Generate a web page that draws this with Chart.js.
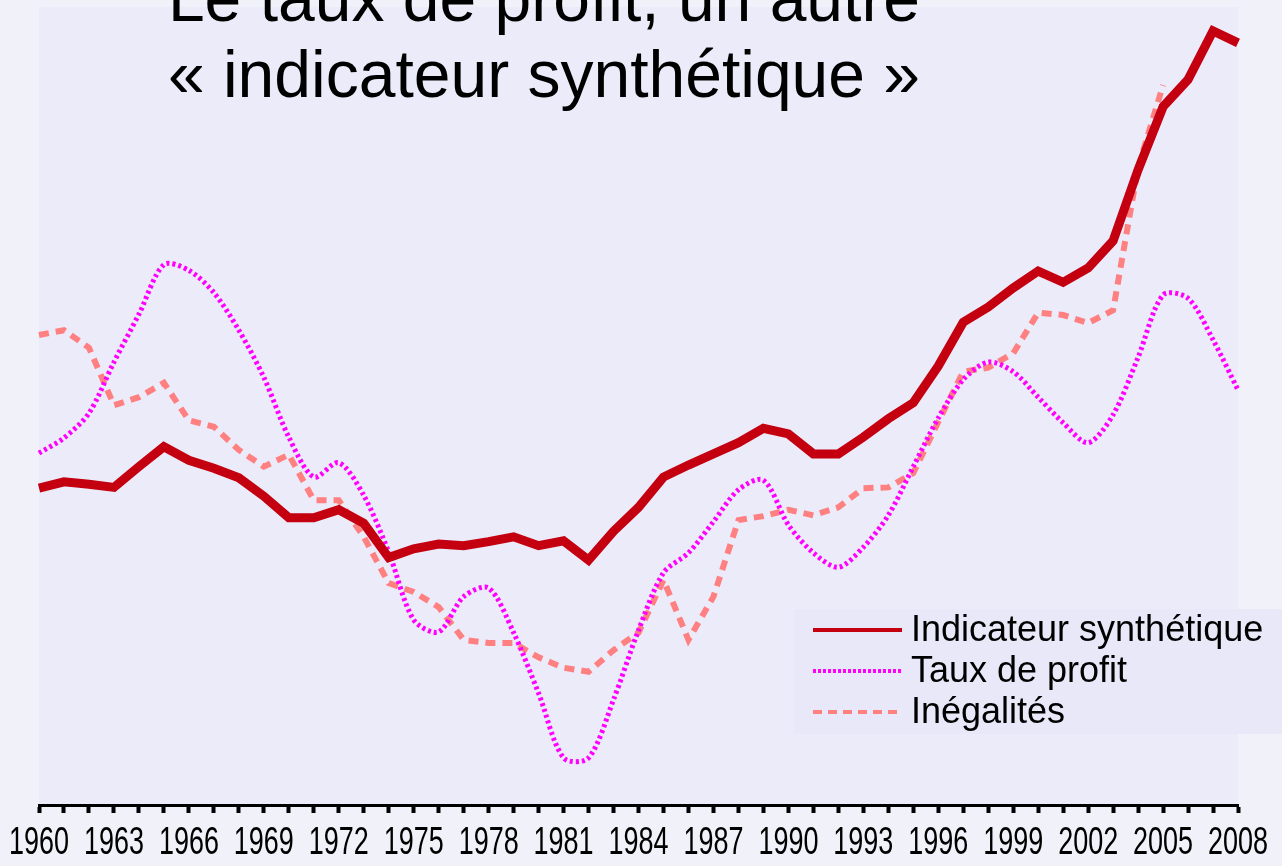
<!DOCTYPE html>
<html lang="fr">
<head>
<meta charset="utf-8">
<title>Le taux de profit, un autre « indicateur synthétique »</title>
<script src="https://cdn.jsdelivr.net/npm/chart.js@4.4.1/dist/chart.umd.min.js"></script>
<style>
  html, body { margin: 0; padding: 0; background: #f1f1f9; overflow: hidden; }
  #cadre { position: relative; width: 1282px; height: 866px; }
  #titre {
    position: absolute; left: 44px; top: -40px; width: 1000px;
    text-align: center; color: #000; pointer-events: none;
    font: 66px/76px "Liberation Sans", Arial, sans-serif;
  }
</style>
</head>
<body>
<div id="cadre">
  <canvas id="graphique" width="1282" height="866"></canvas>
  <div id="titre">Le taux de profit, un autre<br>« indicateur synthétique »</div>
</div>
<script>
// Années (axe X)
const annees = [];
for (let a = 1960; a <= 2008; a++) annees.push(String(a));

// Séries (indice, échelle arbitraire)
const indicateur = [
  39.7, 40.5, 40.2, 39.8, 42.4, 44.9, 43.2, 42.2, 41.0, 38.7,
  36.0, 36.0, 37.0, 35.3, 31.0, 32.1, 32.7, 32.5, 33.0, 33.6,
  32.5, 33.1, 30.7, 34.3, 37.3, 41.1, 42.6, 44.0, 45.4, 47.2,
  46.5, 44.0, 44.0, 46.1, 48.4, 50.4, 55.0, 60.5, 62.4, 64.8,
  66.9, 65.5, 67.3, 70.7, 79.6, 87.5, 90.9, 97.0, 95.5
];

const tauxProfit = [
  44.1, 46.0, 49.1, 55.5, 61.5, 67.7, 67.0, 64.2, 59.5, 53.6,
  46.1, 41.1, 42.9, 38.8, 31.7, 23.2, 21.7, 26.1, 27.2, 21.6,
  14.0, 5.9, 5.9, 13.2, 21.9, 29.1, 31.6, 35.5, 39.5, 40.7,
  35.1, 31.6, 29.8, 32.3, 36.3, 42.4, 48.5, 53.3, 55.5, 54.3,
  51.1, 47.9, 45.4, 48.9, 56.1, 63.9, 63.5, 58.3, 52.0
];

const inegalites = [
  58.9, 59.5, 57.3, 50.1, 51.1, 52.9, 48.2, 47.4, 44.5, 42.4,
  43.9, 38.2, 38.2, 33.6, 27.8, 26.7, 24.8, 20.7, 20.3, 20.3,
  18.5, 17.2, 16.7, 19.4, 21.6, 28.2, 20.7, 26.1, 35.7, 36.2,
  37.0, 36.3, 37.3, 39.7, 39.8, 41.6, 48.0, 54.3, 54.8, 56.6,
  61.7, 61.4, 60.4, 62.0, 79.9, 90.2, null, null, null
];

// Fond de la zone de tracé + libellés d'années un peu "étroits"
let fillTextOrig = null;
const fondZone = {
  id: 'fondZone',
  beforeDraw(chart) {
    const { ctx, chartArea } = chart;
    ctx.save();
    ctx.fillStyle = '#ecebfa';
    ctx.fillRect(chartArea.left, chartArea.top, chartArea.right - chartArea.left, chartArea.bottom - chartArea.top);
    ctx.restore();
    // les graduations sont dessinées juste après : on limite leur largeur
    fillTextOrig = ctx.fillText;
    ctx.fillText = function (t, x, y, mw) {
      if (/^\d{4}$/.test(t)) return fillTextOrig.call(this, t, x, y, 60);
      return mw === undefined ? fillTextOrig.call(this, t, x, y) : fillTextOrig.call(this, t, x, y, mw);
    };
  },
  beforeDatasetsDraw(chart) {
    if (fillTextOrig) {
      chart.ctx.fillText = fillTextOrig;
      fillTextOrig = null;
    }
  }
};

// Légende dessinée dans un encadré en bas à droite
const legendeMaison = {
  id: 'legendeMaison',
  afterDraw(chart) {
    const ctx = chart.ctx;
    ctx.save();
    ctx.fillStyle = '#e8e8f8';
    ctx.fillRect(794, 609, 488, 125);
    ctx.font = '36px "Liberation Sans", Arial, sans-serif';
    ctx.textBaseline = 'middle';
    const tirets = [[], [3, 2], [9, 6]];
    chart.data.datasets.forEach((ds, i) => {
      const y = 630 + i * 41;
      ctx.beginPath();
      ctx.setLineDash(tirets[i]);
      ctx.lineWidth = 4;
      ctx.strokeStyle = ds.borderColor;
      ctx.moveTo(813, y);
      ctx.lineTo(902, y);
      ctx.stroke();
      ctx.setLineDash([]);
      ctx.fillStyle = '#000';
      ctx.fillText(ds.label, 911, y + 1);
    });
    ctx.restore();
  }
};

const config = {
  type: 'line',
  data: {
    labels: annees,
    datasets: [
      {
        label: 'Indicateur synthétique',
        data: indicateur,
        borderColor: '#c40010',
        borderWidth: 9,
        pointRadius: 0,
        tension: 0,
      },
      {
        label: 'Taux de profit',
        data: tauxProfit,
        borderColor: '#ff00ff',
        borderWidth: 5,
        borderDash: [3, 3],
        pointRadius: 0,
        tension: 0.3,
      },
      {
        label: 'Inégalités',
        data: inegalites,
        borderColor: '#ff8080',
        borderWidth: 6,
        borderDash: [10, 7],
        pointRadius: 0,
        tension: 0,
        spanGaps: false,
      }
    ]
  },
  options: {
    responsive: false,
    animation: false,
    layout: {
      padding: { left: 39, right: 44, top: 7, bottom: -9 }
    },
    scales: {
      x: {
        grid: {
          drawOnChartArea: false,
          color: '#000',
          tickLength: 8,
          tickWidth: 4,
        },
        border: { color: '#000', width: 3 },
        ticks: {
          autoSkip: false,
          maxRotation: 0,
          minRotation: 0,
          padding: 12,
          color: '#000',
          font: { family: '"Liberation Sans", Arial, sans-serif', size: 38, lineHeight: 1 },
          callback: function (value, index) {
            return index % 3 === 0 ? annees[index] : '';
          }
        },
        afterFit: function (scale) {
          scale.paddingLeft = 0;
          scale.paddingRight = 0;
        }
      },
      y: {
        display: false,
        min: 0,
        max: 100,
      }
    },
    plugins: {
      legend: { display: false },
      tooltip: { enabled: false },
    }
  },
  plugins: [fondZone, legendeMaison]
};

new Chart(document.getElementById('graphique'), config);
</script>
</body>
</html>
